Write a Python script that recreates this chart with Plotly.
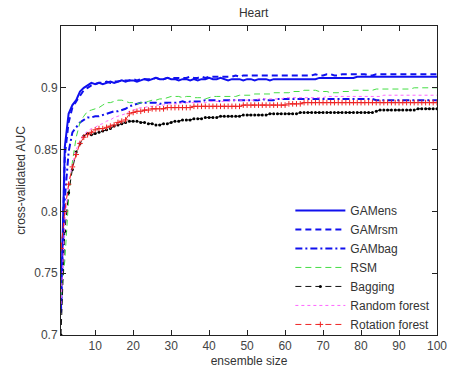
import plotly.graph_objects as go

ensemble_size = list(range(1, 101))

gamens = [0.722,0.852,0.879,0.886,0.890,0.897,0.900,0.902,0.904,0.903,
 0.904,0.903,0.904,0.905,0.904,0.905,0.906,0.905,0.906,0.906,
 0.905,0.906,0.907,0.906,0.907,0.908,0.907,0.907,0.908,0.907,
 0.907,0.906,0.907,0.907,0.906,0.907,0.906,0.907,0.907,0.908,
 0.907,0.907,0.908,0.907,0.906,0.907,0.907,0.907,0.906,0.907,
 0.907,0.906,0.907,0.907,0.907,0.906,0.907,0.907,0.907,0.907,
 0.907,0.907,0.907,0.907,0.907,0.907,0.907,0.907,0.908,0.908,
 0.908,0.908,0.908,0.908,0.908,0.908,0.908,0.908,0.909,0.909,
 0.909,0.909,0.909,0.909,0.909,0.909,0.909,0.909,0.909,0.909,
 0.909,0.909,0.909,0.909,0.909,0.909,0.909,0.909,0.909,0.909]

gamrsm = [0.718,0.845,0.872,0.884,0.889,0.894,0.898,0.900,0.902,0.903,
 0.904,0.904,0.905,0.904,0.905,0.905,0.906,0.906,0.906,0.907,
 0.906,0.907,0.907,0.907,0.907,0.908,0.907,0.907,0.908,0.908,
 0.908,0.908,0.908,0.908,0.909,0.908,0.908,0.909,0.908,0.909,
 0.909,0.909,0.909,0.909,0.909,0.909,0.910,0.909,0.910,0.910,
 0.910,0.910,0.910,0.910,0.910,0.910,0.910,0.910,0.910,0.910,
 0.910,0.910,0.910,0.910,0.910,0.910,0.910,0.911,0.910,0.910,
 0.911,0.911,0.910,0.910,0.911,0.911,0.911,0.911,0.911,0.911,
 0.911,0.910,0.910,0.911,0.911,0.911,0.911,0.911,0.911,0.911,
 0.911,0.911,0.911,0.911,0.911,0.911,0.911,0.911,0.911,0.911]

gambag = [0.728,0.810,0.848,0.864,0.868,0.872,0.874,0.876,0.876,0.877,
 0.877,0.878,0.879,0.880,0.881,0.881,0.882,0.883,0.885,0.886,
 0.887,0.888,0.888,0.888,0.888,0.888,0.887,0.888,0.888,0.888,
 0.888,0.888,0.889,0.888,0.889,0.889,0.889,0.889,0.890,0.890,
 0.890,0.890,0.889,0.890,0.890,0.890,0.890,0.890,0.890,0.890,
 0.890,0.890,0.890,0.891,0.890,0.890,0.890,0.891,0.891,0.891,
 0.891,0.891,0.891,0.891,0.891,0.891,0.891,0.891,0.891,0.891,
 0.891,0.891,0.891,0.891,0.891,0.891,0.891,0.891,0.891,0.891,
 0.891,0.891,0.891,0.890,0.890,0.890,0.890,0.890,0.890,0.890,
 0.890,0.890,0.890,0.890,0.890,0.890,0.890,0.890,0.890,0.890]

rsm = [0.732,0.760,0.810,0.840,0.860,0.872,0.877,0.881,0.882,0.883,
 0.884,0.886,0.888,0.888,0.889,0.890,0.890,0.889,0.888,0.888,
 0.887,0.888,0.888,0.889,0.890,0.890,0.891,0.891,0.892,0.893,
 0.893,0.893,0.892,0.893,0.893,0.892,0.892,0.892,0.891,0.892,
 0.893,0.893,0.893,0.893,0.893,0.893,0.893,0.894,0.894,0.894,
 0.894,0.895,0.895,0.895,0.895,0.895,0.896,0.896,0.896,0.896,
 0.896,0.897,0.897,0.897,0.898,0.898,0.898,0.898,0.897,0.897,
 0.897,0.896,0.896,0.896,0.897,0.897,0.897,0.898,0.898,0.898,
 0.898,0.898,0.898,0.899,0.899,0.899,0.899,0.899,0.899,0.899,
 0.899,0.899,0.899,0.900,0.900,0.900,0.900,0.900,0.900,0.900]

bagging = [0.700,0.784,0.815,0.834,0.848,0.855,0.861,0.863,0.862,0.863,
 0.864,0.865,0.866,0.867,0.869,0.870,0.871,0.872,0.873,0.873,
 0.873,0.872,0.872,0.871,0.871,0.870,0.870,0.871,0.871,0.872,
 0.873,0.873,0.874,0.874,0.874,0.875,0.875,0.875,0.876,0.876,
 0.876,0.876,0.877,0.877,0.877,0.877,0.877,0.877,0.878,0.878,
 0.878,0.878,0.878,0.878,0.878,0.879,0.879,0.879,0.879,0.879,
 0.879,0.879,0.879,0.880,0.880,0.880,0.880,0.880,0.880,0.880,
 0.880,0.880,0.880,0.880,0.880,0.880,0.880,0.880,0.880,0.880,
 0.880,0.880,0.880,0.881,0.882,0.882,0.882,0.882,0.882,0.882,
 0.882,0.882,0.882,0.882,0.883,0.883,0.883,0.883,0.883,0.883]

random_forest = [0.725,0.792,0.822,0.838,0.850,0.857,0.862,0.865,0.867,0.868,
 0.870,0.871,0.873,0.874,0.876,0.877,0.878,0.879,0.881,0.882,
 0.883,0.884,0.884,0.885,0.885,0.886,0.886,0.886,0.887,0.887,
 0.887,0.887,0.888,0.888,0.888,0.888,0.888,0.888,0.888,0.889,
 0.889,0.889,0.889,0.889,0.889,0.890,0.890,0.890,0.890,0.890,
 0.890,0.890,0.891,0.891,0.891,0.891,0.891,0.891,0.891,0.892,
 0.892,0.892,0.892,0.892,0.892,0.892,0.892,0.892,0.892,0.892,
 0.893,0.893,0.893,0.893,0.893,0.893,0.893,0.893,0.893,0.893,
 0.893,0.893,0.893,0.893,0.893,0.894,0.894,0.894,0.894,0.894,
 0.894,0.894,0.894,0.894,0.894,0.894,0.894,0.894,0.894,0.894]

rotation_forest = [0.770,0.800,0.822,0.836,0.846,0.855,0.860,0.862,0.864,0.866,
 0.867,0.867,0.868,0.869,0.870,0.872,0.873,0.874,0.879,0.880,
 0.881,0.881,0.882,0.882,0.883,0.883,0.883,0.883,0.884,0.884,
 0.884,0.884,0.884,0.884,0.884,0.885,0.885,0.885,0.885,0.885,
 0.885,0.885,0.885,0.885,0.885,0.885,0.885,0.885,0.886,0.886,
 0.886,0.886,0.886,0.886,0.886,0.886,0.886,0.886,0.886,0.886,
 0.887,0.887,0.887,0.887,0.888,0.888,0.888,0.888,0.888,0.888,
 0.888,0.888,0.888,0.888,0.888,0.888,0.888,0.888,0.888,0.888,
 0.888,0.888,0.888,0.888,0.888,0.888,0.888,0.888,0.888,0.888,
 0.888,0.888,0.888,0.888,0.888,0.888,0.888,0.888,0.888,0.888]

x_ticks = [10, 20, 30, 40, 50, 60, 70, 80, 90, 100]
x_tick_labels = ["10", "20", "30", "40", "50", "60", "70", "80", "90", "100"]
y_ticks = [0.7, 0.75, 0.8, 0.85, 0.9]
y_tick_labels = ["0.7", "0.75", "0.8", "0.85", "0.9"]

BLUE = "#1010ee"
fig = go.Figure()
fig.add_trace(go.Scatter(x=ensemble_size, y=gamens, name="GAMens", mode="lines",
                         line=dict(color=BLUE, width=2, dash="solid")))
fig.add_trace(go.Scatter(x=ensemble_size, y=gamrsm, name="GAMrsm", mode="lines",
                         line=dict(color=BLUE, width=2, dash="6px,4px")))
fig.add_trace(go.Scatter(x=ensemble_size, y=gambag, name="GAMbag", mode="lines",
                         line=dict(color=BLUE, width=2, dash="7px,3px,2px,3px")))
fig.add_trace(go.Scatter(x=ensemble_size, y=rsm, name="RSM", mode="lines",
                         line=dict(color="#44dd44", width=1, dash="6px,4px")))
fig.add_trace(go.Scatter(x=ensemble_size, y=bagging, name="Bagging", mode="lines+markers",
                         line=dict(color="#111111", width=1, dash="6px,4px"),
                         marker=dict(symbol="circle", size=3, color="#000000")))
fig.add_trace(go.Scatter(x=ensemble_size, y=random_forest, name="Random forest", mode="lines",
                         line=dict(color="#ff66ff", width=1, dash="dot")))
fig.add_trace(go.Scatter(x=ensemble_size, y=rotation_forest, name="Rotation forest", mode="lines+markers",
                         line=dict(color="#ee2222", width=1, dash="6px,4px"),
                         marker=dict(symbol="cross-thin", size=4, color="#ee2222",
                                     line=dict(color="#ee2222", width=1))))

axis_common = dict(showline=True, linecolor="#222222", linewidth=1, mirror="ticks",
                   ticks="inside", ticklen=5, tickcolor="#222222", showgrid=False,
                   zeroline=False, tickfont=dict(size=12, color="#444444"))

fig.update_layout(
    width=457, height=379,
    margin=dict(l=61, r=10, t=26, b=44),
    paper_bgcolor="white", plot_bgcolor="white",
    font=dict(family="Liberation Sans, Arial, sans-serif", size=12, color="#333333"),
    title=dict(text="Heart", x=0.555, xanchor="center", y=0.967, yanchor="middle",
               font=dict(size=12, color="#333333")),
    xaxis=dict(range=[1, 100.001], tickvals=x_ticks, ticktext=x_tick_labels,
               ticklabeloverflow="allow",
               title=dict(text="ensemble size", standoff=4, font=dict(size=12, color="#333333")),
               **axis_common),
    yaxis=dict(range=[0.7, 0.95], tickvals=y_ticks, ticktext=y_tick_labels,
               title=dict(text="cross-validated AUC", standoff=6, font=dict(size=12, color="#333333")),
               **axis_common),
    legend=dict(x=0.61, xanchor="left", y=0.45, yanchor="top",
                bgcolor="rgba(255,255,255,0)", borderwidth=0,
                font=dict(size=12, color="#333333"), itemwidth=50,
                tracegroupgap=0),
    showlegend=True,
)

fig.write_html("out.html")
